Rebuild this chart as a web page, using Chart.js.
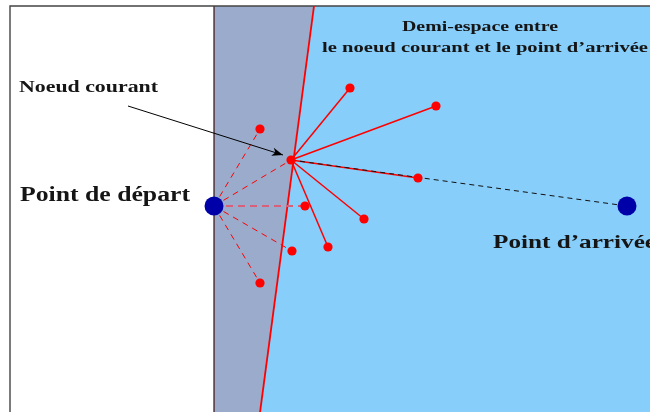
<!DOCTYPE html>
<html>
<head>
<meta charset="utf-8">
<script src="https://cdn.jsdelivr.net/npm/chart.js@4"></script>
<style>
html, body { margin: 0; padding: 0; background: #fff; }
#wrap { width: 650px; height: 412px; }
</style>
</head>
<body>
<div id="wrap"><canvas id="diagram" width="650" height="412"></canvas></div>
<script>
// points of the diagram (pixel-like units, y goes down)
const startPoint = [214, 206];
const endPoint = [627, 206];
const currentNode = [291, 160];

// neighbours reached from the current node (solid) and from the start (dashed)
const forwardX = [350, 436, 418, 364, 328];
const forwardY = [88, 106, 178, 219, 247];
const backwardX = [260, 291, 305, 292, 260];
const backwardY = [129, 160, 206, 251, 283];

// areas and borders
const frameX = [10, 10, 660];
const frameY = [420, 6, 6];
const grayZoneX = [214, 314, 259, 214];
const grayZoneY = [6, 6, 420, 420];
const blueZoneX = [314, 660, 660, 259];
const blueZoneY = [6, 6, 420, 420];
const wallX = [214, 214];
const wallY = [6, 420];
const boundaryX = [314, 259];
const boundaryY = [6, 420];
const arrowX = [128, 283];
const arrowY = [106, 155];

const labelTexts = ["Noeud courant", "Point de départ", "Point d\u2019arrivée",
                    "Demi-espace entre", "le noeud courant et le point d\u2019arrivée"];

const pts = (xs, ys) => xs.map((x, i) => ({ x: x, y: ys[i] }));
const RED = "#ff0000";

let datasets = [];

// background zones
datasets.push({ data: pts(grayZoneX, grayZoneY), showLine: true, fill: "shape",
  backgroundColor: "#9aabcb", borderWidth: 0, pointRadius: 0, order: 20 });
datasets.push({ data: pts(blueZoneX, blueZoneY), showLine: true, fill: "shape",
  backgroundColor: "#87cefa", borderWidth: 0, pointRadius: 0, order: 20 });
datasets.push({ data: pts(frameX, frameY), showLine: true, borderColor: "#444",
  borderWidth: 1.4, pointRadius: 0, order: 15 });
datasets.push({ data: pts(wallX, wallY), showLine: true, borderColor: "#3a1010",
  borderWidth: 1.2, pointRadius: 0, order: 15 });
datasets.push({ data: pts(boundaryX, boundaryY), showLine: true, borderColor: RED,
  borderWidth: 1.8, pointRadius: 0, order: 14 });

// dashed lines from the start point
backwardX.forEach((x, i) => {
  const soft = i === 2;
  datasets.push({
    data: [{ x: startPoint[0], y: startPoint[1] }, { x: x, y: backwardY[i] }],
    showLine: true, borderColor: soft ? "#d8607a" : RED, borderWidth: soft ? 2 : 1,
    borderDash: soft ? [7, 5] : [6, 5], pointRadius: 0, order: 10
  });
});

// solid lines from the current node
forwardX.forEach((x, i) => {
  datasets.push({
    data: [{ x: currentNode[0], y: currentNode[1] }, { x: x, y: forwardY[i] }],
    showLine: true, borderColor: RED, borderWidth: 1.5, pointRadius: 0, order: 9
  });
});

// dashed line towards the goal
datasets.push({ data: [{ x: currentNode[0], y: currentNode[1] }, { x: endPoint[0], y: endPoint[1] }],
  showLine: true, borderColor: "#111", borderWidth: 1, borderDash: [5, 4], pointRadius: 0, order: 8 });

// arrow to the current node
const arrowIndex = datasets.length;
datasets.push({ data: pts(arrowX, arrowY), showLine: true, borderColor: "#000",
  borderWidth: 1, pointRadius: 0, order: 7 });

// red nodes
datasets.push({ data: pts(forwardX.concat(backwardX), forwardY.concat(backwardY)),
  pointRadius: 4.6, pointBackgroundColor: RED, pointBorderWidth: 0, order: 3 });

// start and end
datasets.push({ data: [{ x: startPoint[0], y: startPoint[1] }, { x: endPoint[0], y: endPoint[1] }],
  pointRadius: 9.5, pointBackgroundColor: "#0000a8", pointBorderWidth: 0, order: 2 });

function fitText(ctx, text, x, y, size, width, align) {
  ctx.font = "bold " + size + "px 'Liberation Serif'";
  const w = ctx.measureText(text).width;
  ctx.save();
  ctx.translate(x, y);
  ctx.scale(width / w, 1);
  ctx.textAlign = align;
  ctx.textBaseline = "alphabetic";
  ctx.fillStyle = "#151515";
  ctx.fillText(text, 0, 0);
  ctx.restore();
}

const extras = {
  id: "extras",
  afterDatasetsDraw(chart) {
    const ctx = chart.ctx;
    const sx = chart.scales.x, sy = chart.scales.y;

    // arrow head
    const meta = chart.getDatasetMeta(arrowIndex);
    const a = meta.data[0], b = meta.data[1];
    const ang = Math.atan2(b.y - a.y, b.x - a.x);
    ctx.save();
    ctx.translate(b.x, b.y);
    ctx.rotate(ang);
    ctx.beginPath();
    ctx.moveTo(0, 0);
    ctx.lineTo(-11, -4.2);
    ctx.lineTo(-8, 0);
    ctx.lineTo(-11, 4.2);
    ctx.closePath();
    ctx.fillStyle = "#000";
    ctx.fill();
    ctx.restore();

    // labels
    fitText(ctx, labelTexts[0], sx.getPixelForValue(19), sy.getPixelForValue(92), 17, 139, "left");
    fitText(ctx, labelTexts[1], sx.getPixelForValue(20), sy.getPixelForValue(201), 20, 170, "left");
    fitText(ctx, labelTexts[2], sx.getPixelForValue(493), sy.getPixelForValue(248), 18, 163, "left");
    fitText(ctx, labelTexts[3], sx.getPixelForValue(480), sy.getPixelForValue(31), 15, 156, "center");
    fitText(ctx, labelTexts[4], sx.getPixelForValue(485), sy.getPixelForValue(52), 15, 326, "center");
  }
};

new Chart(document.getElementById("diagram"), {
  type: "scatter",
  data: { datasets: datasets },
  options: {
    responsive: false,
    devicePixelRatio: 1,
    animation: false,
    events: [],
    layout: { padding: 0, autoPadding: false },
    elements: { line: { tension: 0 } },
    scales: {
      x: { type: "linear", min: 0, max: 650, display: false },
      y: { type: "linear", min: 0, max: 412, reverse: true, display: false }
    },
    plugins: { legend: { display: false }, tooltip: { enabled: false } }
  },
  plugins: [extras]
});
</script>
</body>
</html>
